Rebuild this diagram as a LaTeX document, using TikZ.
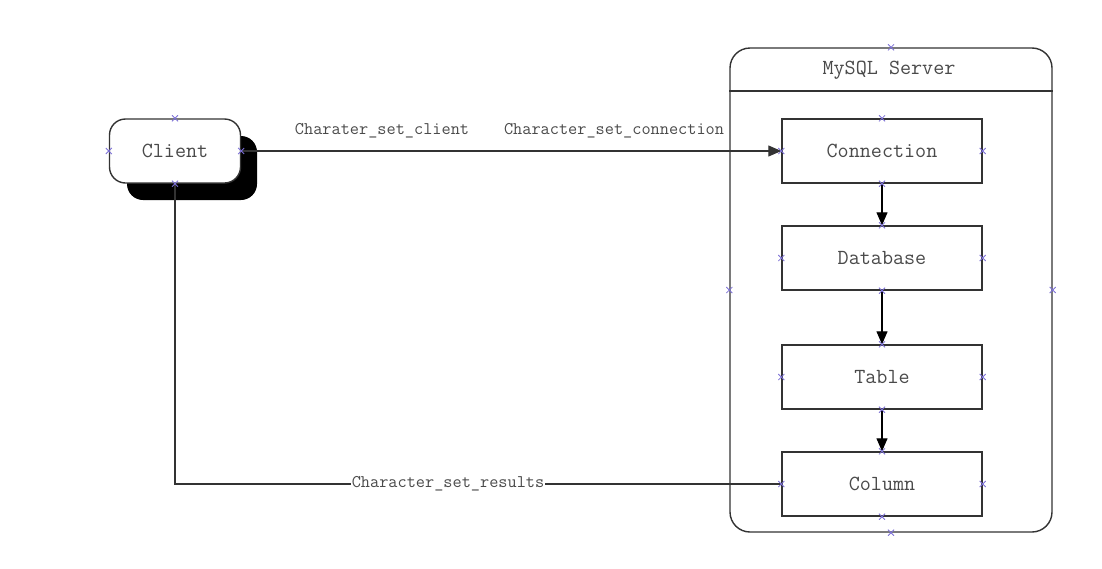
\documentclass[tikz,border=0pt]{standalone}
\usepackage{fontspec}
\usetikzlibrary{arrows.meta}

\definecolor{linegray}{HTML}{333333}
\definecolor{textgray}{HTML}{4A4A4A}
\definecolor{markblue}{HTML}{7B6FD6}

\tikzset{
  stage/.style={draw=linegray, line width=1.4pt, fill=white, minimum width=200pt,
    minimum height=64pt, text=textgray, font=\ttfamily\fontsize{21.5}{24}\selectfont},
  charset/.style={text=textgray, font=\ttfamily\fontsize{17.8}{20}\selectfont, inner sep=1pt},
  flow/.style={draw=black, line width=1.1pt, -{Triangle[length=13pt,width=11pt]}}
}
% small connection-point cross
\newcommand{\markx}[1]{\draw[markblue, line width=0.8pt]
  ([shift={(-3pt,-3pt)}]#1) -- ([shift={(3pt,3pt)}]#1)
  ([shift={(-3pt,3pt)}]#1) -- ([shift={(3pt,-3pt)}]#1);}

\begin{document}
\begin{tikzpicture}[x=1pt, y=-1pt]
  \useasboundingbox[fill=white] (0,0) rectangle (1102,568);
  % server frame
  \node[draw=linegray, line width=1.4pt, rounded corners=20pt, minimum width=322pt,
    minimum height=484pt] (server) at (891,290) {};
  \draw[linegray, line width=1.4pt] (server.west |- 0,91) -- (server.east |- 0,91);
  \node[text=textgray, font=\ttfamily\fontsize{21.5}{24}\selectfont] (title) at (889,70) {MySQL Server};
  % client with shadow
  \fill[black, rounded corners=16pt] (127,136) rectangle (257,200);
  \node[stage, rounded corners=16pt, minimum width=131pt] (client) at (175,151) {Client};
  % server stages
  \node[stage] (connection) at (882,151) {Connection};
  \node[stage] (database) at (882,258) {Database};
  \node[stage] (table) at (882,377) {Table};
  \node[stage] (column) at (882,484) {Column};
  \draw[flow] (connection) -- (database);
  \draw[flow] (database) -- (table);
  \draw[flow] (table) -- (column);
  % request path
  \draw[flow, draw=linegray] (client.east) -- (connection.west);
  \node[charset] (setclient) at (382,131) {Charater\_set\_client};
  \node[charset] (setconn) at (614,131) {Character\_set\_connection};
  % result path
  \node[charset, fill=white] (results) at (448,484) {Character\_set\_results};
  \coordinate (turn) at (175,484);
  \draw[linegray, line width=1.1pt] (column.west) -- (results.east)
    (results.west) -- (turn) -- (client.south);
  % connection points
  \foreach \n in {client,connection,database,table,column,server}
    \foreach \a in {north,south,east,west} {\markx{\n.\a}}
\end{tikzpicture}
\end{document}
